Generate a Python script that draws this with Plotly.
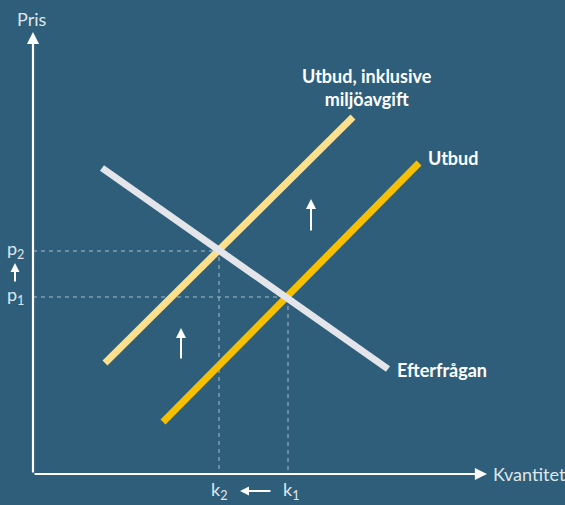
import plotly.graph_objects as go

# Conceptual supply/demand diagram (units: arbitrary, origin at axis crossing)
utbud_q = [130, 386]
utbud_p = [52, 311]
utbud_miljo_q = [72, 320]
utbud_miljo_p = [111, 357]
efterfragan_q = [69, 355]
efterfragan_p = [306, 105]

k1, p1 = 255, 177
k2, p2 = 186, 223

BG = "#2e5e7a"
TXT = "#dfe6ec"
FONT = "Lato, 'Open Sans', sans-serif"

fig = go.Figure()

# dashed guide lines
for k, p in [(k1, p1), (k2, p2)]:
    fig.add_trace(go.Scatter(x=[0, k, k], y=[p, p, 0], mode="lines",
                             line=dict(color="#a9bccb", width=1, dash="4px,4px"),
                             hoverinfo="skip", showlegend=False))

fig.add_trace(go.Scatter(x=utbud_miljo_q, y=utbud_miljo_p, mode="lines",
                         line=dict(color="#fddf8c", width=7), showlegend=False))
fig.add_trace(go.Scatter(x=utbud_q, y=utbud_p, mode="lines",
                         line=dict(color="#f6c000", width=7), showlegend=False))
fig.add_trace(go.Scatter(x=efterfragan_q, y=efterfragan_p, mode="lines",
                         line=dict(color="#e4e5ea", width=7), showlegend=False))

ann = []

def arrow(x0, y0, x1, y1, w=2, size=1.0):
    ann.append(dict(x=x1, y=y1, ax=x0, ay=y0, xref="x", yref="y", axref="x", ayref="y",
                    showarrow=True, arrowhead=2, arrowsize=size, arrowwidth=w,
                    arrowcolor="white", text=""))

# axes
arrow(0, 0, 0, 442, w=2.2, size=1.1)
arrow(0, 0, 454, 0, w=2.2, size=1.1)
# shift arrows
arrow(278, 242, 278, 275)
arrow(148, 114, 148, 146)
arrow(-18, 191, -18, 211, w=2, size=0.9)
arrow(239, -17, 207, -17, w=2, size=0.9)

def txt(x, y, s, size=18, bold=False, xanchor="center", yanchor="middle", color=TXT):
    ann.append(dict(x=x, y=y, xref="x", yref="y", text=("<b>%s</b>" % s) if bold else s,
                    showarrow=False, xanchor=xanchor, yanchor=yanchor,
                    font=dict(family=FONT, size=size, color=color)))

txt(-1, 455, "Pris")
txt(458, 0, "Kvantitet", xanchor="left")
txt(-18, p2 + 2, "p<sub>2</sub>")
txt(-18, p1 + 2, "p<sub>1</sub>")
txt(k2, -16, "k<sub>2</sub>")
txt(k1 + 3, -16, "k<sub>1</sub>")
txt(334, 387, "Utbud, inklusive<br>miljöavgift", bold=True, color="white")
txt(393, 316, "Utbud", bold=True, color="white", xanchor="left")
txt(362, 104, "Efterfrågan", bold=True, color="white", xanchor="left")

fig.update_layout(
    width=565, height=505, margin=dict(l=0, r=0, t=0, b=0),
    paper_bgcolor=BG, plot_bgcolor=BG,
    xaxis=dict(range=[-33, 532], visible=False, fixedrange=True),
    yaxis=dict(range=[-31, 474], visible=False, fixedrange=True),
    annotations=ann, showlegend=False,
)

fig.write_html("out.html", config={"displayModeBar": False})

with open("out.html", encoding="utf-8") as f:
    html = f.read()
html = html.replace("<head>", "<head><style>html,body{margin:0;padding:0;background:%s;overflow:hidden;}</style>" % BG, 1)
with open("out.html", "w", encoding="utf-8") as f:
    f.write(html)
